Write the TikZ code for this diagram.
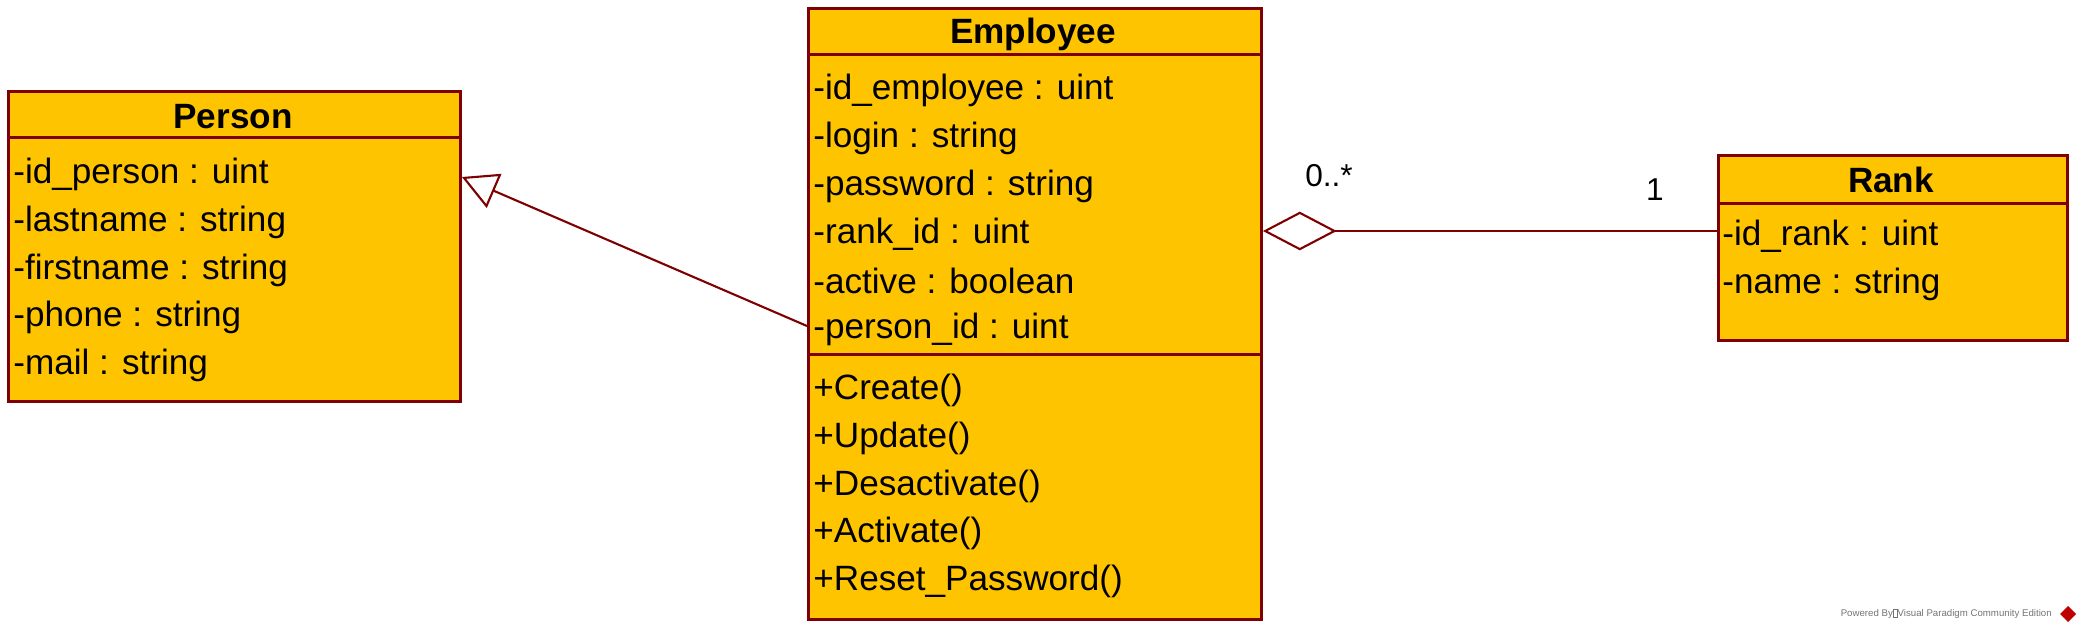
\documentclass[tikz,border=0pt]{standalone}
\usepackage{fontspec}
\setmainfont{Liberation Sans}
\usepackage{tikz}
\usetikzlibrary{calc,arrows.meta}
\definecolor{umlfill}{HTML}{FFC400}
\definecolor{umlline}{HTML}{7F0000}
\def\umltext{\fontsize{20}{24}\selectfont}
\begin{document}
\begin{tikzpicture}[x=0.02cm,y=-0.02cm,
    classbox/.style={draw=umlline,fill=umlfill,line width=1.7pt,inner sep=0pt,anchor=north west},
    classname/.style={font=\umltext\bfseries,inner sep=0pt},
    member/.style={font=\umltext,anchor=west,inner sep=0pt},
    divider/.style={draw=umlline,line width=1.7pt},
    link/.style={draw=umlline,line width=1.2pt},
    mult/.style={font=\fontsize{18}{22}\selectfont,inner sep=0pt}]
    \useasboundingbox (0,0) rectangle (2079,630);

    % Person
    \node[classbox,minimum width=9.04cm,minimum height=6.2cm] (person) at (7,90) {};
    \node[classname] (persontitle) at ($(person.north west)+(226,27)$) {Person};
    \draw[divider] ($(person.north west)+(0,47)$) -- ++(452,0);
    \node[member] (pa1) at ($(person.north west)+(6,84)$) {-id\_person : uint};
    \node[member] (pa2) at ($(person.north west)+(6,132)$) {-lastname : string};
    \node[member] (pa3) at ($(person.north west)+(6,180)$) {-firstname : string};
    \node[member] (pa4) at ($(person.north west)+(6,227)$) {-phone : string};
    \node[member] (pa5) at ($(person.north west)+(6,275)$) {-mail : string};

    % Employee
    \node[classbox,minimum width=9.06cm,minimum height=12.22cm] (employee) at (807,7) {};
    \node[classname] (employeetitle) at ($(employee.north west)+(226,27)$) {Employee};
    \draw[divider] ($(employee.north west)+(0,47)$) -- ++(453,0);
    \draw[divider] ($(employee.north west)+(0,347)$) -- ++(453,0);
    \node[member] (ea1) at ($(employee.north west)+(6,83)$) {-id\_employee : uint};
    \node[member] (ea2) at ($(employee.north west)+(6,131)$) {-login : string};
    \node[member] (ea3) at ($(employee.north west)+(6,179)$) {-password : string};
    \node[member] (ea4) at ($(employee.north west)+(6,227)$) {-rank\_id : uint};
    \node[member] (ea5) at ($(employee.north west)+(6,274)$) {-active : boolean};
    \node[member] (ea6) at ($(employee.north west)+(6,322)$) {-person\_id : uint};
    \node[member] (em1) at ($(employee.north west)+(6,383)$) {+Create()};
    \node[member] (em2) at ($(employee.north west)+(6,431)$) {+Update()};
    \node[member] (em3) at ($(employee.north west)+(6,479)$) {+Desactivate()};
    \node[member] (em4) at ($(employee.north west)+(6,526)$) {+Activate()};
    \node[member] (em5) at ($(employee.north west)+(6,574)$) {+Reset\_Password()};

    % Rank
    \node[classbox,minimum width=6.98cm,minimum height=3.7cm] (rank) at (1717,154) {};
    \node[classname] (ranktitle) at ($(rank.north west)+(174,26)$) {Rank};
    \draw[divider] ($(rank.north west)+(0,49)$) -- ++(349,0);
    \node[member] (ra1) at ($(rank.north west)+(5,82)$) {-id\_rank : uint};
    \node[member] (ra2) at ($(rank.north west)+(5,130)$) {-name : string};

    % generalization and aggregation
    \coordinate (gentip) at ($(person.north east)+(0,87)$);
    \coordinate (genfoot) at ($(employee.north west)+(0,319)$);
    \coordinate (aggfoot) at ($(employee.north east)+(0,224)$);
    \draw[link,-{Triangle[open,length=20pt,width=21pt,fill=white]}] (genfoot) -- (gentip);
    \draw[link,{Diamond[open,length=42pt,width=22pt,fill=white]}-] (aggfoot) -- (rank.west |- aggfoot);
    \node[mult] (many) at (1329,176) {0..*};
    \node[mult] (one) at (1655,190) {1};

    % footer
    \node[font=\fontsize{5.5}{6}\selectfont,text=black!55,anchor=east,inner sep=0pt] (footer) at (2052,614)
        {Powered By{\fboxsep=0pt\fboxrule=0.3pt\fbox{\phantom{l}\,}}Visual Paradigm Community Edition};
    \fill[red!75!black] (2068,606) -- (2076,614) -- (2068,622) -- (2060,614) -- cycle;
\end{tikzpicture}
\end{document}
